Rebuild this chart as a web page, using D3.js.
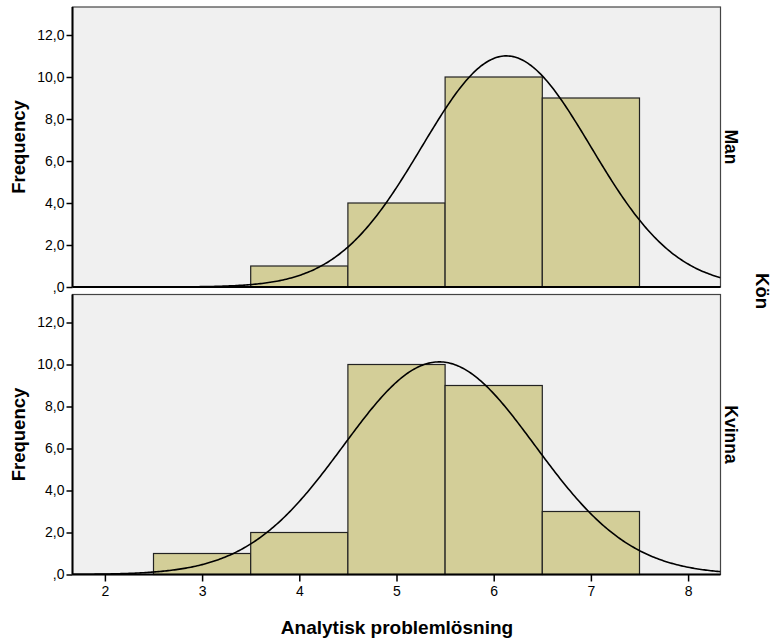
<!DOCTYPE html>
<html>
<head>
<meta charset="utf-8">
<script src="https://cdn.jsdelivr.net/npm/d3@7"></script>
<style>
body { margin: 0; background: #fff; }
svg text { font-family: "Liberation Sans", Arial, sans-serif; fill: #000; }
</style>
</head>
<body>
<svg id="chart"></svg>
<script>
// bins (lower edge of each unit-wide bin) and counts per panel
const groups = ["Man", "Kvinna"];
const binStartsMan = [3.5, 4.5, 5.5, 6.5];
const countsMan = [1, 4, 10, 9];
const binStartsKvinna = [2.5, 3.5, 4.5, 5.5, 6.5];
const countsKvinna = [1, 2, 10, 9, 3];
// normal curve parameters
const meanMan = 6.13, sdMan = 0.87, nMan = 24;
const meanKvinna = 5.44, sdKvinna = 0.985, nKvinna = 25;
const yTicks = [0, 2, 4, 6, 8, 10, 12];
const xTicks = [2, 3, 4, 5, 6, 7, 8];

const width = 775, height = 643;
const svg = d3.select("#chart").attr("width", width).attr("height", height);

const left = 72.5, right = 720.5;
const panels = [
	{ name: groups[0], top: 7, bottom: 287, starts: binStartsMan, counts: countsMan, mean: meanMan, sd: sdMan, n: nMan },
	{ name: groups[1], top: 294.5, bottom: 574.5, starts: binStartsKvinna, counts: countsKvinna, mean: meanKvinna, sd: sdKvinna, n: nKvinna }
];

const x = d3.scaleLinear().domain([5 / 3, 25 / 3]).range([left, right]);
const fmt = v => v === 0 ? ",0" : d3.format(".1f")(v).replace(".", ",");

panels.forEach((p, i) => {
	const y = d3.scaleLinear().domain([0, 40 / 3]).range([p.bottom, p.top]);
	const g = svg.append("g");

	g.append("rect")
		.attr("x", left).attr("y", p.top)
		.attr("width", right - left).attr("height", p.bottom - p.top)
		.attr("fill", "#f0f0f0").attr("stroke", "#444").attr("stroke-width", 1.2);

	const clipId = "clip" + i;
	svg.append("clipPath").attr("id", clipId).append("rect")
		.attr("x", left).attr("y", p.top)
		.attr("width", right - left).attr("height", p.bottom - p.top);

	g.selectAll(".bar")
		.data(p.starts.map((s, k) => ({ s: s, c: p.counts[k] })))
		.enter()
		.append("rect")
		.attr("x", d => x(d.s))
		.attr("y", d => y(d.c))
		.attr("width", d => x(d.s + 1) - x(d.s))
		.attr("height", d => y(0) - y(d.c))
		.attr("fill", "#d3ce98")
		.attr("stroke", "#222")
		.attr("stroke-width", 1.2);

	const pdf = v => p.n / (p.sd * Math.sqrt(2 * Math.PI)) * Math.exp(-0.5 * Math.pow((v - p.mean) / p.sd, 2));
	const pts = d3.range(0, 401).map(k => x.domain()[0] + k * (x.domain()[1] - x.domain()[0]) / 400);
	g.append("path")
		.datum(pts)
		.attr("clip-path", `url(#${clipId})`)
		.attr("fill", "none")
		.attr("stroke", "#000")
		.attr("stroke-width", 1.6)
		.attr("d", d3.line().x(d => x(d)).y(d => y(pdf(d))));

	// y axis
	const ya = g.append("g").attr("transform", `translate(${left},0)`)
		.call(d3.axisLeft(y).tickValues(yTicks).tickFormat(fmt).tickSize(6).tickPadding(2));
	ya.select(".domain").remove();
	ya.selectAll(".tick line").attr("stroke", "#000").attr("stroke-width", 1.5);
	ya.selectAll(".tick text").attr("font-size", 14).style("font-family", "Liberation Sans, Arial, sans-serif");

	g.append("line").attr("x1", left).attr("x2", left).attr("y1", p.top).attr("y2", p.bottom)
		.attr("stroke", "#000").attr("stroke-width", 2);
	g.append("line").attr("x1", left).attr("x2", right).attr("y1", p.bottom).attr("y2", p.bottom)
		.attr("stroke", "#000").attr("stroke-width", 2);

	g.append("text")
		.attr("transform", `translate(24.5,${(p.top + p.bottom) / 2}) rotate(-90)`)
		.attr("text-anchor", "middle")
		.attr("font-size", 18.5).attr("font-weight", "bold")
		.text("Frequency");

	g.append("text")
		.attr("transform", `translate(725,${(p.top + p.bottom) / 2}) rotate(90)`)
		.attr("text-anchor", "middle")
		.attr("font-size", 17.5).attr("font-weight", "bold")
		.text(p.name);
});

const xa = svg.append("g").attr("transform", `translate(0,${panels[1].bottom})`)
	.call(d3.axisBottom(x).tickValues(xTicks).tickFormat(d3.format("d")).tickSize(7).tickPadding(5));
xa.select(".domain").remove();
xa.selectAll(".tick line").attr("stroke", "#000").attr("stroke-width", 1.5);
xa.selectAll(".tick text").attr("font-size", 14).style("font-family", "Liberation Sans, Arial, sans-serif");

svg.append("text")
	.attr("x", 397).attr("y", 634)
	.attr("text-anchor", "middle")
	.attr("font-size", 19).attr("font-weight", "bold")
	.text("Analytisk problemlösning");

svg.append("text")
	.attr("transform", "translate(756,291) rotate(90)")
	.attr("text-anchor", "middle")
	.attr("font-size", 18.5).attr("font-weight", "bold")
	.text("Kön");
</script>
</body>
</html>
